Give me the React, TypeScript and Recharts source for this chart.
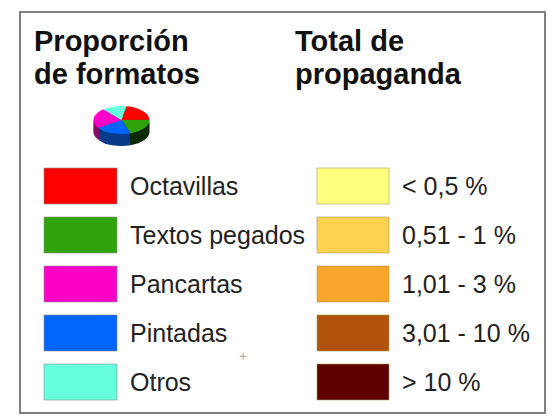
import React from "react";
import { PieChart, Pie, Cell, Sector } from "recharts";

const titles = ["Proporción", "de formatos"];
const titles2 = ["Total de", "propaganda"];
const formatNames = ["Octavillas", "Textos pegados", "Pancartas", "Pintadas", "Otros"];
const formatColors = ["#ff0000", "#2fa30a", "#ff00c8", "#0066ff", "#66ffdd"];
const rangeNames = ["< 0,5 %", "0,51 - 1 %", "1,01 - 3 %", "3,01 - 10 %", "> 10 %"];
const rangeColors = ["#ffff80", "#fdd250", "#f7a52b", "#b0520c", "#5c0000"];
const pieNames = ["Octavillas", "Textos pegados", "Pintadas", "Pancartas", "Otros"];
const pieValues = [22, 20, 21, 23, 14];
const pieColors = ["#ff0000", "#2fa30a", "#0066ff", "#ff00c8", "#66ffdd"];
const sideColors = ["#7a0000", "#0c2a05", "#0a3a8a", "#8a0a60", "#2a8a78"];
const depthLayers = [12, 10, 8, 6, 4, 2];

const pieData = pieNames.map((name, i) => ({ name, value: pieValues[i] }));
const rowY = [168, 217, 266, 315, 364];
const CX = 121.5;
const CY = 120;
const SQUASH = 0.5;

const squashed = (stroke: string) => (props: any) => (
  <g transform={`translate(0 ${props.cy}) scale(1 ${SQUASH}) translate(0 ${-props.cy})`}>
    <Sector {...props} stroke={stroke} strokeWidth={0.5} />
  </g>
);

const font = "'Liberation Sans', Arial, sans-serif";

export default function App() {
  return (
    <div style={{ position: "absolute", left: 0, top: 0, width: 557, height: 416, background: "#fff" }}>
      <PieChart width={557} height={416} margin={{ top: 0, right: 0, bottom: 0, left: 0 }}>
        <rect x={20} y={12} width={525} height={401} fill="#fff" stroke="#808080" strokeWidth={2} />
        {depthLayers.map((d) => (
          <Pie
            key={d}
            data={pieData}
            dataKey="value"
            cx={CX}
            cy={CY + d}
            outerRadius={28}
            startAngle={80}
            endAngle={-280}
            isAnimationActive={false}
            shape={squashed("none")}
            labelLine={false}
          >
            {pieData.map((_, i) => (
              <Cell key={i} fill={sideColors[i]} />
            ))}
          </Pie>
        ))}
        <Pie
          data={pieData}
          dataKey="value"
          cx={CX}
          cy={CY}
          outerRadius={28}
          startAngle={80}
          endAngle={-280}
          isAnimationActive={false}
          shape={squashed("none")}
          labelLine={false}
        >
          {pieData.map((_, i) => (
            <Cell key={i} fill={pieColors[i]} />
          ))}
        </Pie>
        {titles.map((t, i) => (
          <text key={t} x={34} y={51 + i * 33} fontFamily={font} fontWeight={700} fontSize={29} fill="#111">
            {t}
          </text>
        ))}
        {titles2.map((t, i) => (
          <text key={t} x={295} y={51 + i * 33} fontFamily={font} fontWeight={700} fontSize={29} fill="#111">
            {t}
          </text>
        ))}
        {formatNames.map((t, i) => (
          <g key={t}>
            <rect x={44} y={rowY[i]} width={73} height={36} fill={formatColors[i]} stroke="#8a8a8a" strokeWidth={0.6} />
            <text x={130} y={rowY[i] + 27} fontFamily={font} fontSize={25} fill="#222">
              {t}
            </text>
          </g>
        ))}
        {rangeNames.map((t, i) => (
          <g key={t}>
            <rect x={317} y={rowY[i]} width={72} height={36} fill={rangeColors[i]} stroke="#a89a50" strokeWidth={0.6} />
            <text x={402} y={rowY[i] + 27} fontFamily={font} fontSize={25} fill="#222">
              {t}
            </text>
          </g>
        ))}
        <text x={243} y={361} textAnchor="middle" fontFamily={font} fontSize={14} fill="#aaa">
          +
        </text>
      </PieChart>
    </div>
  );
}
